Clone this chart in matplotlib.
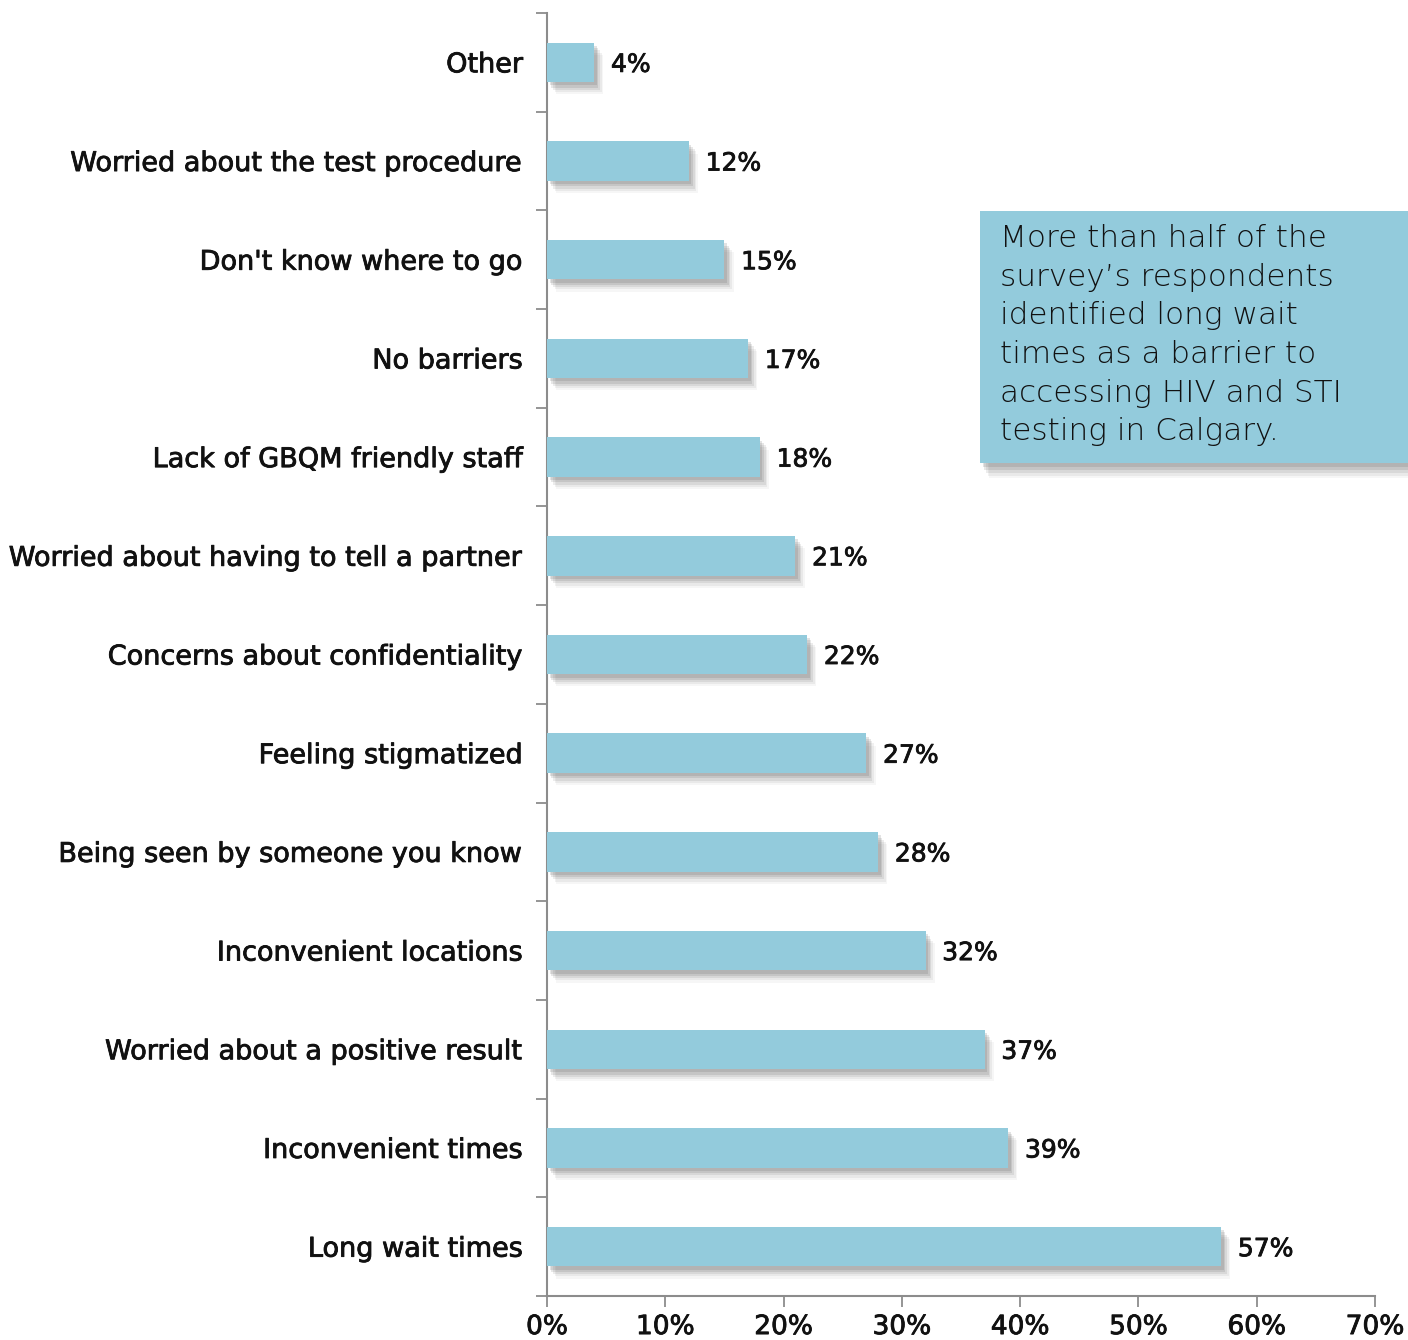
import numpy as np
import matplotlib.pyplot as plt
import matplotlib.patheffects as pe
from matplotlib.patches import Rectangle

# survey results, top to bottom
barriers = [
    "Other",
    "Worried about the test procedure",
    "Don't know where to go",
    "No barriers",
    "Lack of GBQM friendly staff",
    "Worried about having to tell a partner",
    "Concerns about confidentiality",
    "Feeling stigmatized",
    "Being seen by someone you know",
    "Inconvenient locations",
    "Worried about a positive result",
    "Inconvenient times",
    "Long wait times",
]
percent = [4, 12, 15, 17, 18, 21, 22, 27, 28, 32, 37, 39, 57]
xticks = [0, 10, 20, 30, 40, 50, 60, 70]

note = ("More than half of the\nsurvey\u2019s respondents\nidentified long wait\n"
        "times as a barrier to\naccessing HIV and STI\ntesting in Calgary.")

bar_color = "#93cbdc"
axis_color = "#8c8c8c"
text_color = "#111111"
plt.rcParams["font.family"] = ["DejaVu Sans"]

# thin outline to get a medium weight out of the regular face
medium = [pe.withStroke(linewidth=0.6, foreground=text_color)]


def soft_shadow(offset=(3, -4)):
    # a few stacked translucent shadows give a blurred edge
    effects = []
    for k, a in [(2.2, 0.05), (1.8, 0.08), (1.4, 0.11), (1.0, 0.14), (0.6, 0.16)]:
        effects.append(pe.SimplePatchShadow(offset=(offset[0] * k, offset[1] * k),
                                            shadow_rgbFace="#555555", alpha=a))
    effects.append(pe.Normal())
    return effects


fig = plt.figure(figsize=(14.08, 13.40), dpi=100)
ax = fig.add_axes([547 / 1408, 44 / 1340, 828 / 1408, 1283 / 1340])

y = np.arange(len(barriers))
bars = ax.barh(y, percent, height=0.4, color=bar_color, zorder=3)
for b in bars:
    b.set_path_effects(soft_shadow())

for yi, v in zip(y, percent):
    ax.annotate(f"{v}%", (v, yi), xytext=(12, 0), textcoords="offset points",
                va="center_baseline", ha="left", fontsize=18, color=text_color,
                path_effects=medium)

ax.set_ylim(len(barriers) - 0.5, -0.5)
ax.set_xlim(0, 70)

# labels sit on category centres, tick marks on the boundaries between them
ax.set_yticks(y)
ax.set_yticklabels(barriers, fontsize=19.5, color=text_color, path_effects=medium)
ax.tick_params(axis="y", which="major", length=0, pad=17)
ax.set_yticks(np.arange(-0.5, len(barriers)), minor=True)
ax.tick_params(axis="y", which="minor", length=8, width=1.3, color=axis_color, direction="out")

ax.set_xticks(xticks)
ax.set_xticklabels([f"{t}%" for t in xticks], fontsize=19, color=text_color, path_effects=medium)
ax.tick_params(axis="x", length=8, width=1.3, color=axis_color, direction="out", pad=5)

for side in ["top", "right"]:
    ax.spines[side].set_visible(False)
for side in ["left", "bottom"]:
    ax.spines[side].set_color(axis_color)
    ax.spines[side].set_linewidth(1.5)

# call-out box
box = Rectangle((980 / 1408, 877 / 1340), 440 / 1408, 252 / 1340,
                transform=fig.transFigure, facecolor=bar_color, edgecolor="none", zorder=5)
box.set_path_effects(soft_shadow((3, -5)))
fig.patches.append(box)
fig.text(1000 / 1408, 1116 / 1340, note, fontsize=22.4, fontweight="light", color="#111111",
         va="top", ha="left", linespacing=1.42, zorder=6)

fig.savefig("out.png", dpi=100)
